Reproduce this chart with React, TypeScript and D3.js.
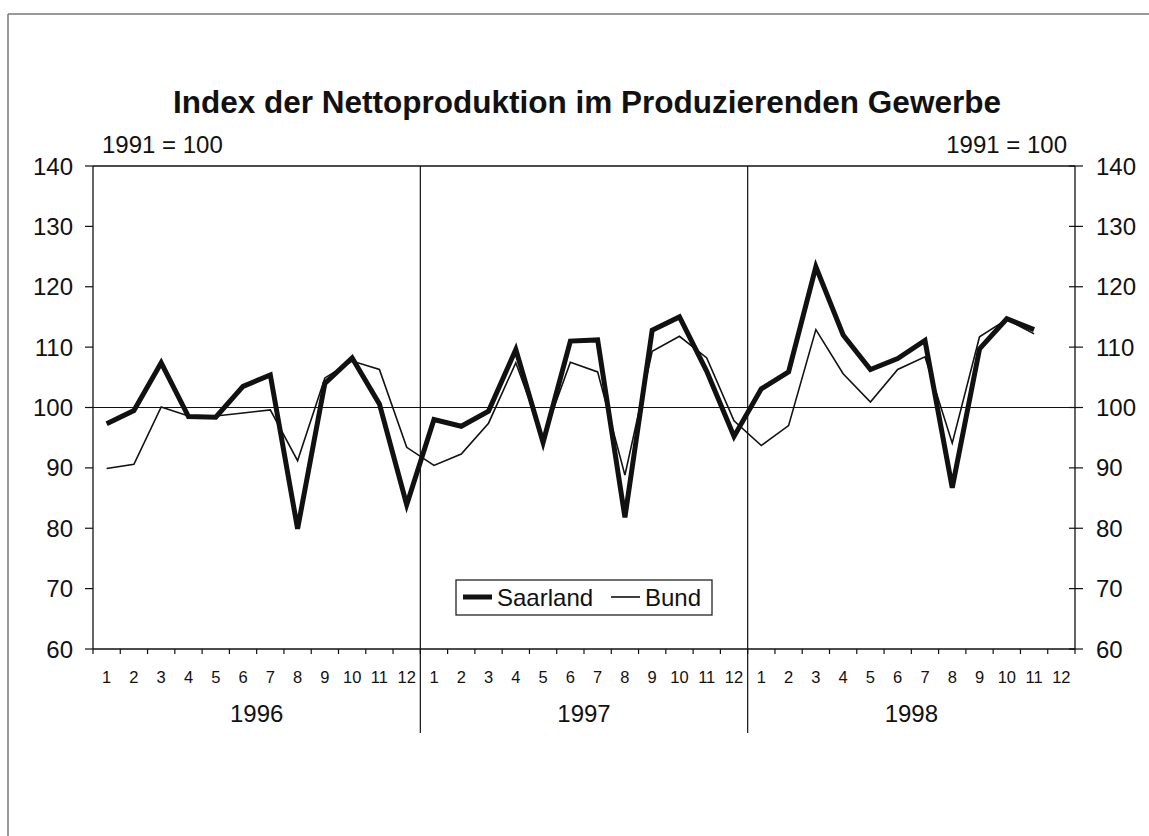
import React from "react";
import * as d3 from "d3";

const years = ["1996", "1997", "1998"];
const months = ["1", "2", "3", "4", "5", "6", "7", "8", "9", "10", "11", "12"];
const yTicks = [60, 70, 80, 90, 100, 110, 120, 130, 140];

const saarland = [
  97.3, 99.5, 107.4, 98.5, 98.4, 103.5, 105.4, 79.9, 104.0, 108.2, 100.6, 83.9,
  98.0, 96.9, 99.4, 109.6, 94.2, 111.0, 111.2, 81.8, 112.8, 115.0, 106.0, 95.2,
  103.1, 105.9, 123.3, 112.0, 106.3, 108.1, 111.1, 86.7, 109.7, 114.7, 112.9,
];
const bund = [
  89.9, 90.6, 100.1, 98.6, 98.6, 99.1, 99.6, 91.2, 104.9, 107.7, 106.3, 93.4,
  90.4, 92.3, 97.4, 107.4, 95.0, 107.5, 105.9, 88.8, 109.3, 111.8, 108.2, 97.8,
  93.7, 97.0, 112.9, 105.6, 100.9, 106.3, 108.4, 94.1, 111.7, 114.6, 112.2,
];

const W = 1149;
const H = 836;
const FONT = "'Liberation Sans', Arial, Helvetica, sans-serif";

export default function App() {
  const left = 93;
  const right = 1075;
  const top = 166;
  const bottom = 649;
  const nSlots = years.length * months.length;
  const x = d3.scaleLinear().domain([0, nSlots]).range([left, right]);
  const y = d3.scaleLinear().domain([60, 140]).range([bottom, top]);
  const line = d3
    .line<number>()
    .x((_, i) => x(i + 0.5))
    .y((d) => y(d))
    .curve(d3.curveLinear);

  const slots = d3.range(nSlots);
  const boundaries = d3.range(nSlots + 1);

  return (
    <svg
      width={W}
      height={H}
      style={{ position: "absolute", left: 0, top: 0, background: "#fff" }}
      fontFamily={FONT}
    >
      <rect x={0} y={0} width={W} height={H} fill="#fff" />
      {/* outer frame */}
      <line x1={8} y1={14} x2={W} y2={14} stroke="#777" strokeWidth={1.5} />
      <line x1={8} y1={14} x2={8} y2={H} stroke="#777" strokeWidth={1.5} />

      {/* title */}
      <text x={587} y={113} textAnchor="middle" fontSize={31.5} fontWeight="bold" fill="#111">
        Index der Nettoproduktion im Produzierenden Gewerbe
      </text>
      <text x={102} y={153} fontSize={24} fill="#111">1991 = 100</text>
      <text x={1067} y={153} fontSize={24} fill="#111" textAnchor="end">1991 = 100</text>

      {/* plot frame */}
      <line x1={left} y1={top} x2={right} y2={top} stroke="#111" strokeWidth={1.3} />
      <line x1={left} y1={top} x2={left} y2={bottom} stroke="#111" strokeWidth={1.3} />
      <line x1={right} y1={top} x2={right} y2={bottom} stroke="#111" strokeWidth={1.3} />
      <line x1={left} y1={bottom} x2={right} y2={bottom} stroke="#111" strokeWidth={1.3} />
      {/* 100 gridline */}
      <line x1={left} y1={y(100)} x2={right} y2={y(100)} stroke="#111" strokeWidth={1.2} />

      {/* year dividers */}
      {[1, 2].map((k) => (
        <line
          key={"div" + k}
          x1={x(k * 12)}
          y1={top}
          x2={x(k * 12)}
          y2={733}
          stroke="#111"
          strokeWidth={1.2}
        />
      ))}

      {/* y ticks left & right */}
      {yTicks.map((t) => (
        <g key={"yt" + t}>
          <line x1={left - 8} y1={y(t)} x2={left} y2={y(t)} stroke="#111" strokeWidth={1.2} />
          <text x={73} y={y(t) + 8.5} textAnchor="end" fontSize={24} fill="#111">
            {t}
          </text>
          <line x1={right - 6} y1={y(t)} x2={right + 8} y2={y(t)} stroke="#111" strokeWidth={1.2} />
          <text x={1096} y={y(t) + 8.5} textAnchor="start" fontSize={24} fill="#111">
            {t}
          </text>
        </g>
      ))}

      {/* x ticks */}
      {boundaries.map((b) => (
        <line
          key={"xt" + b}
          x1={x(b)}
          y1={bottom}
          x2={x(b)}
          y2={bottom + 5}
          stroke="#111"
          strokeWidth={1.2}
        />
      ))}
      {slots.map((s) => (
        <text
          key={"ml" + s}
          x={x(s + 0.5)}
          y={683}
          textAnchor="middle"
          fontSize={16.5}
          fill="#111"
        >
          {months[s % 12]}
        </text>
      ))}
      {years.map((yr, k) => (
        <text
          key={"yr" + yr}
          x={x(k * 12 + 6)}
          y={722}
          textAnchor="middle"
          fontSize={24}
          fill="#111"
        >
          {yr}
        </text>
      ))}

      {/* series */}
      <path d={line(bund) || ""} fill="none" stroke="#111" strokeWidth={1.6} strokeLinejoin="miter" />
      <path d={line(saarland) || ""} fill="none" stroke="#111" strokeWidth={5} strokeLinejoin="miter" />

      {/* legend */}
      <rect x={456} y={580} width={256} height={35} fill="#fff" stroke="#111" strokeWidth={1.2} />
      <line x1={463} y1={597} x2={492} y2={597} stroke="#111" strokeWidth={5} />
      <text x={497} y={606} fontSize={24} fill="#111">Saarland</text>
      <line x1={611} y1={597} x2={640} y2={597} stroke="#111" strokeWidth={1.6} />
      <text x={645} y={606} fontSize={24} fill="#111">Bund</text>
    </svg>
  );
}
